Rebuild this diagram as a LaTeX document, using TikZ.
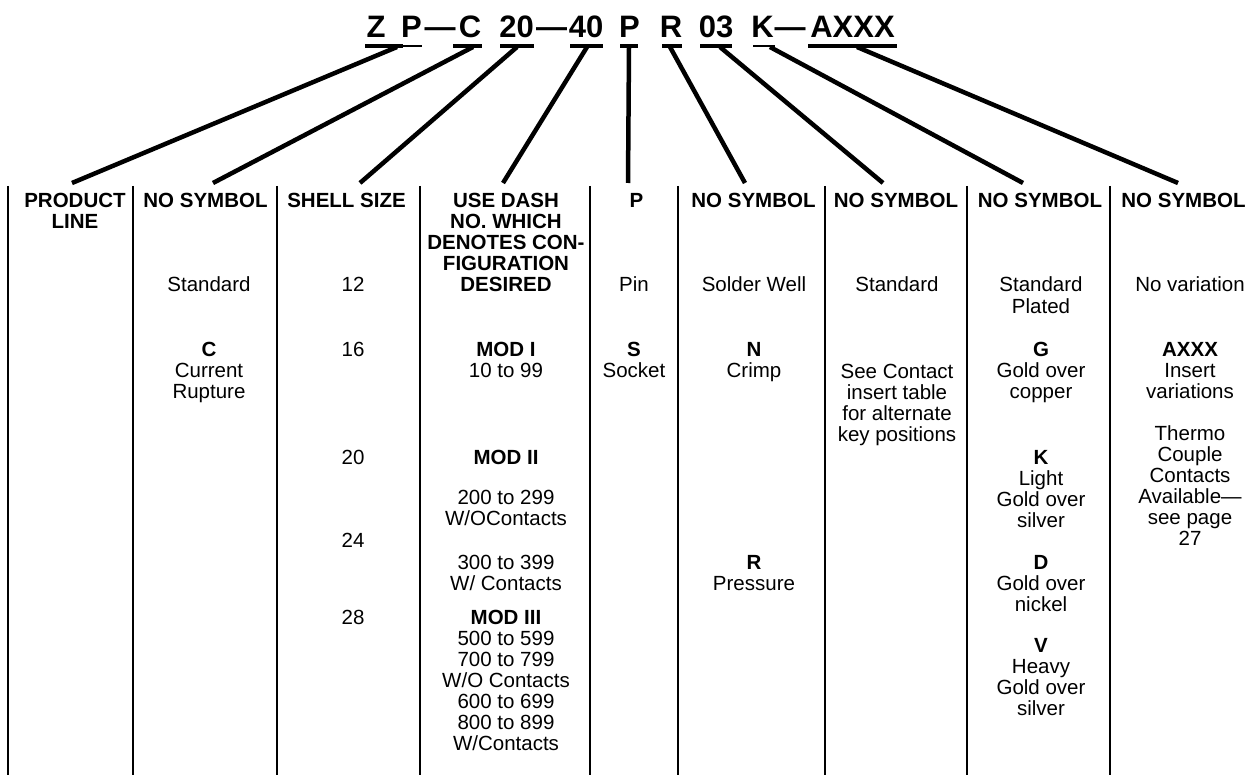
\documentclass[tikz,border=0pt]{standalone}
\usepackage{fontspec}
\setmainfont{Liberation Sans}
\begin{document}
\begin{tikzpicture}[x=1pt,y=-1pt,
  hd/.style={font=\bfseries\fontsize{20.5}{21}\selectfont, align=center, anchor=base, inner sep=0pt},
  bd/.style={font=\fontsize{20.5}{21}\selectfont, align=center, anchor=base, inner sep=0pt},
  ttl/.style={font=\bfseries\fontsize{31}{31}\selectfont, anchor=base, inner sep=0pt},
  conn/.style={line width=4.5pt},
  uline/.style={line width=4.5pt},
  thinuline/.style={line width=2.2pt},
  sep/.style={line width=1.8pt}]
\useasboundingbox (0,0) rectangle (1249,775);

% ---- title parts
\node[ttl] (tZ)  at (376,38)   {Z};
\node[ttl] (tP1) at (411.5,38) {P};
\node[ttl] (td1) at (440,38)   {—};
\node[ttl] (tC)  at (470,38)   {C};
\node[ttl] (t20) at (516.5,38) {20};
\node[ttl] (td2) at (551.5,38) {—};
\node[ttl] (t40) at (586,38)   {40};
\node[ttl] (tP2) at (629.5,38) {P};
\node[ttl] (tR)  at (671,38)   {R};
\node[ttl] (t03) at (716,38)   {03};
\node[ttl] (tK)  at (762.5,38) {K};
\node[ttl] (td3) at (790,38)   {—};
\node[ttl] (tA)  at (852.5,38) {AXXX};

% ---- underlines
\draw[uline] (365,46) -- (403,46);
\draw[thinuline] (403,46) -- (422,46);
\draw[uline] (453,46) -- (482,46);
\draw[uline] (500,46) -- (534,46);
\draw[uline] (570,46) -- (603,46);
\draw[uline] (620,46) -- (638,46);
\draw[uline] (662,46) -- (682,46);
\draw[uline] (700,46) -- (732,46);
\draw[thinuline] (753,46) -- (775,46);
\draw[uline] (808,46) -- (897,46);

% ---- connector ends
\coordinate (s1) at (397,47);  \coordinate (e1) at (72,183);
\coordinate (s2) at (473,47);  \coordinate (e2) at (213,183);
\coordinate (s3) at (517,47);  \coordinate (e3) at (360,183);
\coordinate (s4) at (587,47);  \coordinate (e4) at (503,183);
\coordinate (s5) at (629,47);  \coordinate (e5) at (628,183);
\coordinate (s6) at (670,47);  \coordinate (e6) at (745,183);
\coordinate (s7) at (720,47);  \coordinate (e7) at (883,183);
\coordinate (s8) at (770,47);  \coordinate (e8) at (1023,183);
\coordinate (s9) at (857,47);  \coordinate (e9) at (1178,183);
\foreach \i in {1,...,9} \draw[conn] (s\i) -- (e\i);

% ---- column separators
\foreach \x [count=\k] in {8,133,277,420,590,678,825,967,1110}
  \draw[sep] (\x,186) coordinate (c\k) -- (\x,775);

% ---- headers (y = baseline of last line)
\node[hd] (h1) at (75,229)    {PRODUCT\\LINE};
\node[hd] (h2) at (205.5,208) {NO SYMBOL};
\node[hd] (h3) at (346.5,208) {SHELL SIZE};
\node[hd] (h4) at (506,292)   {USE DASH\\NO. WHICH\\DENOTES CON-\\FIGURATION\\DESIRED};
\node[hd] (h5) at (636.5,208) {P};
\node[hd] (h6) at (753.5,208) {NO SYMBOL};
\node[hd] (h7) at (896,208)   {NO SYMBOL};
\node[hd] (h8) at (1040,208)  {NO SYMBOL};
\node[hd] (h9) at (1183.5,208){NO SYMBOL};

% ---- column 2
\node[bd] (b21) at (209,292) {Standard};
\node[bd] (b22) at (209,398) {\textbf{C}\\Current\\Rupture};
% ---- column 3
\node[bd] (b31) at (353,292) {12};
\node[bd] (b32) at (353,356) {16};
\node[bd] (b33) at (353,464) {20};
\node[bd] (b34) at (353,547) {24};
\node[bd] (b35) at (353,624) {28};
% ---- column 4
\node[bd] (b41) at (506,377) {\textbf{MOD I}\\10 to 99};
\node[bd] (b42) at (506,464) {\textbf{MOD II}};
\node[bd] (b43) at (506,525) {200 to 299\\W/OContacts};
\node[bd] (b44) at (506,590) {300 to 399\\W/ Contacts};
\node[bd] (b45) at (506,750) {\textbf{MOD III}\\500 to 599\\700 to 799\\W/O Contacts\\600 to 699\\800 to 899\\W/Contacts};
% ---- column 5
\node[bd] (b51) at (634,292) {Pin};
\node[bd] (b52) at (634,377) {\textbf{S}\\Socket};
% ---- column 6
\node[bd] (b61) at (754,292) {Solder Well};
\node[bd] (b62) at (754,377) {\textbf{N}\\Crimp};
\node[bd] (b63) at (754,590) {\textbf{R}\\Pressure};
% ---- column 7
\node[bd] (b71) at (897,292) {Standard};
\node[bd] (b72) at (897,441) {See Contact\\insert table\\for alternate\\key positions};
% ---- column 8
\node[bd] (b81) at (1041,313) {Standard\\Plated};
\node[bd] (b82) at (1041,398) {\textbf{G}\\Gold over\\copper};
\node[bd] (b83) at (1041,527) {\textbf{K}\\Light\\Gold over\\silver};
\node[bd] (b84) at (1041,611) {\textbf{D}\\Gold over\\nickel};
\node[bd] (b85) at (1041,715) {\textbf{V}\\Heavy\\Gold over\\silver};
% ---- column 9
\node[bd] (b91) at (1190,292) {No variation};
\node[bd] (b92) at (1190,398) {\textbf{AXXX}\\Insert\\variations};
\node[bd] (b93) at (1190,545) {Thermo\\Couple\\Contacts\\Available—\\see page\\27};
\end{tikzpicture}
\end{document}
